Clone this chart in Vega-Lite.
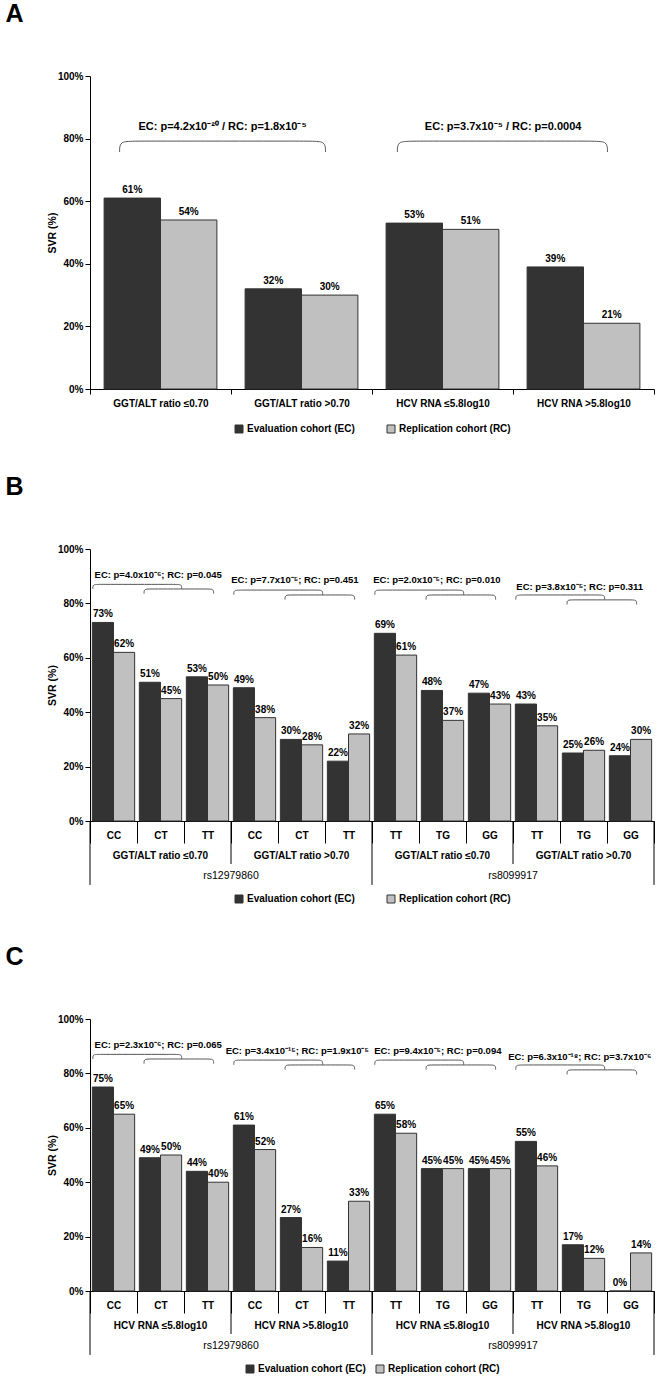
{
  "$schema": "https://vega.github.io/schema/vega-lite/v6.json",
  "background": "white",
  "padding": {"left": 5, "top": 2, "right": 5, "bottom": 2},
  "config": {
    "font": "Liberation Sans",
    "view": {"stroke": null},
    "axis": {"labelFont": "Liberation Sans", "labelFontWeight": "bold", "labelFontSize": 10, "labelColor": "#000", "titleFont": "Liberation Sans", "titleFontWeight": "bold", "titleFontSize": 10.5, "titleColor": "#000", "domainColor": "#000", "tickColor": "#000", "grid": false},
    "legend": {"labelFont": "Liberation Sans", "labelFontWeight": "bold", "labelFontSize": 10, "labelColor": "#000", "symbolType": "square", "symbolSize": 64, "symbolStrokeColor": "#333", "symbolStrokeWidth": 1, "labelOffset": 3, "layout": {"bottom": {"anchor": "middle"}}},
    "title": {"font": "Liberation Sans", "fontSize": 25, "fontWeight": "bold", "anchor": "start", "color": "#000", "dx": -42, "offset": 44},
    "concat": {"spacing": 40}
  },
  "resolve": {"scale": {"xOffset": "independent", "color": "independent"}, "legend": {"color": "independent"}},
  "datasets": {
    "a_bars": [
      {"cat": "GGT/ALT ratio ≤0.70", "cohort": "Evaluation cohort (EC)", "v": 0.61},
      {"cat": "GGT/ALT ratio ≤0.70", "cohort": "Replication cohort (RC)", "v": 0.54},
      {"cat": "GGT/ALT ratio >0.70", "cohort": "Evaluation cohort (EC)", "v": 0.32},
      {"cat": "GGT/ALT ratio >0.70", "cohort": "Replication cohort (RC)", "v": 0.30},
      {"cat": "HCV RNA ≤5.8log10", "cohort": "Evaluation cohort (EC)", "v": 0.53},
      {"cat": "HCV RNA ≤5.8log10", "cohort": "Replication cohort (RC)", "v": 0.51},
      {"cat": "HCV RNA >5.8log10", "cohort": "Evaluation cohort (EC)", "v": 0.39},
      {"cat": "HCV RNA >5.8log10", "cohort": "Replication cohort (RC)", "v": 0.21}
    ],
    "b_bars": [
      {"key": "1|CC", "cohort": "Evaluation cohort (EC)", "v": 0.73},
      {"key": "1|CC", "cohort": "Replication cohort (RC)", "v": 0.62},
      {"key": "2|CT", "cohort": "Evaluation cohort (EC)", "v": 0.51},
      {"key": "2|CT", "cohort": "Replication cohort (RC)", "v": 0.45},
      {"key": "3|TT", "cohort": "Evaluation cohort (EC)", "v": 0.53},
      {"key": "3|TT", "cohort": "Replication cohort (RC)", "v": 0.50},
      {"key": "4|CC", "cohort": "Evaluation cohort (EC)", "v": 0.49},
      {"key": "4|CC", "cohort": "Replication cohort (RC)", "v": 0.38},
      {"key": "5|CT", "cohort": "Evaluation cohort (EC)", "v": 0.30},
      {"key": "5|CT", "cohort": "Replication cohort (RC)", "v": 0.28},
      {"key": "6|TT", "cohort": "Evaluation cohort (EC)", "v": 0.22},
      {"key": "6|TT", "cohort": "Replication cohort (RC)", "v": 0.32},
      {"key": "7|TT", "cohort": "Evaluation cohort (EC)", "v": 0.69},
      {"key": "7|TT", "cohort": "Replication cohort (RC)", "v": 0.61},
      {"key": "8|TG", "cohort": "Evaluation cohort (EC)", "v": 0.48},
      {"key": "8|TG", "cohort": "Replication cohort (RC)", "v": 0.37},
      {"key": "9|GG", "cohort": "Evaluation cohort (EC)", "v": 0.47},
      {"key": "9|GG", "cohort": "Replication cohort (RC)", "v": 0.43},
      {"key": "10|TT", "cohort": "Evaluation cohort (EC)", "v": 0.43},
      {"key": "10|TT", "cohort": "Replication cohort (RC)", "v": 0.35},
      {"key": "11|TG", "cohort": "Evaluation cohort (EC)", "v": 0.25},
      {"key": "11|TG", "cohort": "Replication cohort (RC)", "v": 0.26},
      {"key": "12|GG", "cohort": "Evaluation cohort (EC)", "v": 0.24},
      {"key": "12|GG", "cohort": "Replication cohort (RC)", "v": 0.30}
    ],
    "c_bars": [
      {"key": "1|CC", "cohort": "Evaluation cohort (EC)", "v": 0.75},
      {"key": "1|CC", "cohort": "Replication cohort (RC)", "v": 0.65},
      {"key": "2|CT", "cohort": "Evaluation cohort (EC)", "v": 0.49},
      {"key": "2|CT", "cohort": "Replication cohort (RC)", "v": 0.50},
      {"key": "3|TT", "cohort": "Evaluation cohort (EC)", "v": 0.44},
      {"key": "3|TT", "cohort": "Replication cohort (RC)", "v": 0.40},
      {"key": "4|CC", "cohort": "Evaluation cohort (EC)", "v": 0.61},
      {"key": "4|CC", "cohort": "Replication cohort (RC)", "v": 0.52},
      {"key": "5|CT", "cohort": "Evaluation cohort (EC)", "v": 0.27},
      {"key": "5|CT", "cohort": "Replication cohort (RC)", "v": 0.16},
      {"key": "6|TT", "cohort": "Evaluation cohort (EC)", "v": 0.11},
      {"key": "6|TT", "cohort": "Replication cohort (RC)", "v": 0.33},
      {"key": "7|TT", "cohort": "Evaluation cohort (EC)", "v": 0.65},
      {"key": "7|TT", "cohort": "Replication cohort (RC)", "v": 0.58},
      {"key": "8|TG", "cohort": "Evaluation cohort (EC)", "v": 0.45},
      {"key": "8|TG", "cohort": "Replication cohort (RC)", "v": 0.45},
      {"key": "9|GG", "cohort": "Evaluation cohort (EC)", "v": 0.45},
      {"key": "9|GG", "cohort": "Replication cohort (RC)", "v": 0.45},
      {"key": "10|TT", "cohort": "Evaluation cohort (EC)", "v": 0.55},
      {"key": "10|TT", "cohort": "Replication cohort (RC)", "v": 0.46},
      {"key": "11|TG", "cohort": "Evaluation cohort (EC)", "v": 0.17},
      {"key": "11|TG", "cohort": "Replication cohort (RC)", "v": 0.12},
      {"key": "12|GG", "cohort": "Evaluation cohort (EC)", "v": 0.0},
      {"key": "12|GG", "cohort": "Replication cohort (RC)", "v": 0.14}
    ],
    "a_notes": [
      {"x": 0.94, "y": 0.837, "t": "EC: p=4.2x10⁻²⁰ / RC: p=1.8x10⁻⁵"},
      {"x": 2.93, "y": 0.837, "t": "EC: p=3.7x10⁻⁵ / RC: p=0.0004"}
    ],
    "b_notes": [
      {"x": 1.45, "y": 0.904, "t": "EC: p=4.0x10⁻⁶; RC: p=0.045"},
      {"x": 4.36, "y": 0.886, "t": "EC: p=7.7x10⁻⁵; RC: p=0.451"},
      {"x": 7.38, "y": 0.886, "t": "EC: p=2.0x10⁻⁵; RC: p=0.010"},
      {"x": 10.42, "y": 0.86, "t": "EC: p=3.8x10⁻⁵; RC: p=0.311"}
    ],
    "c_notes": [
      {"x": 1.45, "y": 0.904, "t": "EC: p=2.3x10⁻⁶; RC: p=0.065"},
      {"x": 4.41, "y": 0.882, "t": "EC: p=3.4x10⁻¹⁵; RC: p=1.9x10⁻⁵"},
      {"x": 7.4, "y": 0.882, "t": "EC: p=9.4x10⁻⁵; RC: p=0.094"},
      {"x": 10.42, "y": 0.86, "t": "EC: p=6.3x10⁻¹⁸; RC: p=3.7x10⁻⁶"}
    ],
    "a_braces": [
      {"id": "a1", "i": 0, "x": 0.21, "y": 0.757}, {"id": "a1", "i": 1, "x": 0.21, "y": 0.792}, {"id": "a1", "i": 2, "x": 0.31, "y": 0.792},
      {"id": "a1", "i": 3, "x": 1.57, "y": 0.792}, {"id": "a1", "i": 4, "x": 1.67, "y": 0.792}, {"id": "a1", "i": 5, "x": 1.67, "y": 0.757},
      {"id": "a2", "i": 0, "x": 2.18, "y": 0.757}, {"id": "a2", "i": 1, "x": 2.18, "y": 0.792}, {"id": "a2", "i": 2, "x": 2.28, "y": 0.792},
      {"id": "a2", "i": 3, "x": 3.57, "y": 0.792}, {"id": "a2", "i": 4, "x": 3.67, "y": 0.792}, {"id": "a2", "i": 5, "x": 3.67, "y": 0.757}
    ],
    "bc_braces": [
      {"id": "g1a", "i": 0, "x": 0.06, "y": 0.853}, {"id": "g1a", "i": 1, "x": 0.06, "y": 0.87}, {"id": "g1a", "i": 2, "x": 0.18, "y": 0.87},
      {"id": "g1a", "i": 3, "x": 1.83, "y": 0.87}, {"id": "g1a", "i": 4, "x": 1.95, "y": 0.87}, {"id": "g1a", "i": 5, "x": 1.95, "y": 0.853},
      {"id": "g1b", "i": 0, "x": 1.15, "y": 0.836}, {"id": "g1b", "i": 1, "x": 1.15, "y": 0.853}, {"id": "g1b", "i": 2, "x": 1.27, "y": 0.853},
      {"id": "g1b", "i": 3, "x": 2.51, "y": 0.853}, {"id": "g1b", "i": 4, "x": 2.63, "y": 0.853}, {"id": "g1b", "i": 5, "x": 2.63, "y": 0.836},
      {"id": "g2a", "i": 0, "x": 3.06, "y": 0.832}, {"id": "g2a", "i": 1, "x": 3.06, "y": 0.849}, {"id": "g2a", "i": 2, "x": 3.18, "y": 0.849},
      {"id": "g2a", "i": 3, "x": 4.83, "y": 0.849}, {"id": "g2a", "i": 4, "x": 4.95, "y": 0.849}, {"id": "g2a", "i": 5, "x": 4.95, "y": 0.832},
      {"id": "g2b", "i": 0, "x": 4.15, "y": 0.814}, {"id": "g2b", "i": 1, "x": 4.15, "y": 0.831}, {"id": "g2b", "i": 2, "x": 4.27, "y": 0.831},
      {"id": "g2b", "i": 3, "x": 5.51, "y": 0.831}, {"id": "g2b", "i": 4, "x": 5.63, "y": 0.831}, {"id": "g2b", "i": 5, "x": 5.63, "y": 0.814},
      {"id": "g3a", "i": 0, "x": 6.06, "y": 0.832}, {"id": "g3a", "i": 1, "x": 6.06, "y": 0.849}, {"id": "g3a", "i": 2, "x": 6.18, "y": 0.849},
      {"id": "g3a", "i": 3, "x": 7.83, "y": 0.849}, {"id": "g3a", "i": 4, "x": 7.95, "y": 0.849}, {"id": "g3a", "i": 5, "x": 7.95, "y": 0.832},
      {"id": "g3b", "i": 0, "x": 7.15, "y": 0.814}, {"id": "g3b", "i": 1, "x": 7.15, "y": 0.831}, {"id": "g3b", "i": 2, "x": 7.27, "y": 0.831},
      {"id": "g3b", "i": 3, "x": 8.51, "y": 0.831}, {"id": "g3b", "i": 4, "x": 8.63, "y": 0.831}, {"id": "g3b", "i": 5, "x": 8.63, "y": 0.814},
      {"id": "g4a", "i": 0, "x": 9.06, "y": 0.814}, {"id": "g4a", "i": 1, "x": 9.06, "y": 0.831}, {"id": "g4a", "i": 2, "x": 9.18, "y": 0.831},
      {"id": "g4a", "i": 3, "x": 10.83, "y": 0.831}, {"id": "g4a", "i": 4, "x": 10.95, "y": 0.831}, {"id": "g4a", "i": 5, "x": 10.95, "y": 0.814},
      {"id": "g4b", "i": 0, "x": 10.15, "y": 0.796}, {"id": "g4b", "i": 1, "x": 10.15, "y": 0.813}, {"id": "g4b", "i": 2, "x": 10.27, "y": 0.813},
      {"id": "g4b", "i": 3, "x": 11.51, "y": 0.813}, {"id": "g4b", "i": 4, "x": 11.63, "y": 0.813}, {"id": "g4b", "i": 5, "x": 11.63, "y": 0.796}
    ],
    "b_groups": [
      {"x": 1.5, "t": "GGT/ALT ratio ≤0.70"}, {"x": 4.5, "t": "GGT/ALT ratio >0.70"},
      {"x": 7.5, "t": "GGT/ALT ratio ≤0.70"}, {"x": 10.5, "t": "GGT/ALT ratio >0.70"}
    ],
    "c_groups": [
      {"x": 1.5, "t": "HCV RNA ≤5.8log10"}, {"x": 4.5, "t": "HCV RNA >5.8log10"},
      {"x": 7.5, "t": "HCV RNA ≤5.8log10"}, {"x": 10.5, "t": "HCV RNA >5.8log10"}
    ],
    "rs": [{"x": 3, "t": "rs12979860"}, {"x": 9, "t": "rs8099917"}],
    "gdiv": [{"x": 3}, {"x": 9}],
    "rdiv": [{"x": 0}, {"x": 6}, {"x": 12}]
  },
  "vconcat": [
    {
      "title": {"text": "A"},
      "width": 564,
      "height": 313,
      "resolve": {"scale": {"x": "independent"}},
      "layer": [
        {
          "data": {"name": "a_bars"},
          "layer": [
            {
              "mark": {"type": "bar", "stroke": "#333", "strokeWidth": 1},
              "encoding": {
                "x": {"field": "cat", "type": "nominal", "sort": null, "scale": {"paddingInner": 0, "paddingOuter": 0}, "axis": {"title": null, "labelAngle": 0, "tickBand": "extent", "tickSize": 5, "labelPadding": 4}},
                "xOffset": {"field": "cohort", "type": "nominal", "sort": null, "scale": {"paddingOuter": 0.25, "paddingInner": 0}},
                "y": {"field": "v", "type": "quantitative", "title": "SVR (%)", "scale": {"domain": [0, 1]}, "axis": {"format": ".0%", "values": [0, 0.2, 0.4, 0.6, 0.8, 1], "tickSize": 5, "titlePadding": 0}},
                "color": {"field": "cohort", "type": "nominal", "sort": null, "scale": {"range": ["#333333", "#c0c0c0"]}, "legend": {"title": null, "orient": "bottom", "direction": "horizontal", "columnPadding": 30, "offset": 16}}
              }
            },
            {
              "mark": {"type": "text", "fontWeight": "bold", "fontSize": 10, "baseline": "alphabetic", "dy": -5},
              "encoding": {
                "x": {"field": "cat", "type": "nominal", "sort": null},
                "xOffset": {"field": "cohort", "type": "nominal", "sort": null},
                "y": {"field": "v", "type": "quantitative", "title": "SVR (%)"},
                "text": {"field": "v", "type": "quantitative", "format": ".0%"}
              }
            }
          ]
        },
        {
          "data": {"name": "a_braces"},
          "mark": {"type": "line", "interpolate": "basis", "stroke": "#555", "strokeWidth": 1},
          "encoding": {
            "x": {"field": "x", "type": "quantitative", "scale": {"domain": [0, 4], "nice": false, "zero": false}, "axis": null},
            "y": {"field": "y", "type": "quantitative", "title": "SVR (%)"},
            "detail": {"field": "id"},
            "order": {"field": "i", "type": "quantitative"}
          }
        },
        {
          "data": {"name": "a_notes"},
          "mark": {"type": "text", "fontWeight": "bold", "fontSize": 11, "baseline": "middle"},
          "encoding": {
            "x": {"field": "x", "type": "quantitative", "scale": {"domain": [0, 4], "nice": false, "zero": false}, "axis": null},
            "y": {"field": "y", "type": "quantitative", "title": "SVR (%)"},
            "text": {"field": "t"}
          }
        }
      ]
    },
    {
      "title": {"text": "B"},
      "width": 564,
      "height": 272,
      "resolve": {"scale": {"x": "independent"}},
      "layer": [
        {
          "data": {"name": "b_bars"},
          "layer": [
            {
              "mark": {"type": "bar", "stroke": "#333", "strokeWidth": 1},
              "encoding": {
                "x": {"field": "key", "type": "nominal", "sort": null, "scale": {"paddingInner": 0, "paddingOuter": 0}, "axis": {"title": null, "labelAngle": 0, "tickBand": "extent", "tickSize": 22, "labelPadding": -13, "labelExpr": "split(datum.value, '|')[1]"}},
                "xOffset": {"field": "cohort", "type": "nominal", "sort": null, "scale": {"paddingOuter": 0.111, "paddingInner": 0}},
                "y": {"field": "v", "type": "quantitative", "title": "SVR (%)", "scale": {"domain": [0, 1]}, "axis": {"format": ".0%", "values": [0, 0.2, 0.4, 0.6, 0.8, 1], "tickSize": 5, "titlePadding": 0}},
                "color": {"field": "cohort", "type": "nominal", "sort": null, "scale": {"range": ["#333333", "#c0c0c0"]}, "legend": {"title": null, "orient": "bottom", "direction": "horizontal", "columnPadding": 30, "offset": 50}}
              }
            },
            {
              "mark": {"type": "text", "fontWeight": "bold", "fontSize": 10, "baseline": "alphabetic", "dy": -5},
              "encoding": {
                "x": {"field": "key", "type": "nominal", "sort": null},
                "xOffset": {"field": "cohort", "type": "nominal", "sort": null},
                "y": {"field": "v", "type": "quantitative", "title": "SVR (%)"},
                "text": {"field": "v", "type": "quantitative", "format": ".0%"}
              }
            }
          ]
        },
        {
          "data": {"name": "bc_braces"},
          "mark": {"type": "line", "interpolate": "basis", "stroke": "#555", "strokeWidth": 1},
          "encoding": {
            "x": {"field": "x", "type": "quantitative", "scale": {"domain": [0, 12], "nice": false, "zero": false}, "axis": null},
            "y": {"field": "y", "type": "quantitative", "title": "SVR (%)"},
            "detail": {"field": "id"},
            "order": {"field": "i", "type": "quantitative"}
          }
        },
        {
          "data": {"name": "b_notes"},
          "mark": {"type": "text", "fontWeight": "bold", "fontSize": 9.5, "baseline": "middle"},
          "encoding": {
            "x": {"field": "x", "type": "quantitative", "scale": {"domain": [0, 12], "nice": false, "zero": false}, "axis": null},
            "y": {"field": "y", "type": "quantitative", "title": "SVR (%)"},
            "text": {"field": "t"}
          }
        },
        {
          "data": {"name": "b_groups"},
          "mark": {"type": "text", "fontWeight": "bold", "fontSize": 10, "baseline": "middle"},
          "encoding": {
            "x": {"field": "x", "type": "quantitative", "scale": {"domain": [0, 12], "nice": false, "zero": false}, "axis": null},
            "y": {"datum": -0.13, "type": "quantitative"},
            "text": {"field": "t"}
          }
        },
        {
          "data": {"name": "rs"},
          "mark": {"type": "text", "fontWeight": "normal", "fontSize": 10.5, "baseline": "middle"},
          "encoding": {
            "x": {"field": "x", "type": "quantitative", "scale": {"domain": [0, 12], "nice": false, "zero": false}, "axis": null},
            "y": {"datum": -0.203, "type": "quantitative"},
            "text": {"field": "t"}
          }
        },
        {
          "data": {"name": "gdiv"},
          "mark": {"type": "rule", "stroke": "#000", "strokeWidth": 1},
          "encoding": {
            "x": {"field": "x", "type": "quantitative", "scale": {"domain": [0, 12], "nice": false, "zero": false}, "axis": null},
            "y": {"datum": 0, "type": "quantitative"},
            "y2": {"datum": -0.158}
          }
        },
        {
          "data": {"name": "rdiv"},
          "mark": {"type": "rule", "stroke": "#000", "strokeWidth": 1},
          "encoding": {
            "x": {"field": "x", "type": "quantitative", "scale": {"domain": [0, 12], "nice": false, "zero": false}, "axis": null},
            "y": {"datum": 0, "type": "quantitative"},
            "y2": {"datum": -0.235}
          }
        }
      ]
    },
    {
      "title": {"text": "C"},
      "width": 564,
      "height": 272,
      "resolve": {"scale": {"x": "independent"}},
      "layer": [
        {
          "data": {"name": "c_bars"},
          "layer": [
            {
              "mark": {"type": "bar", "stroke": "#333", "strokeWidth": 1},
              "encoding": {
                "x": {"field": "key", "type": "nominal", "sort": null, "scale": {"paddingInner": 0, "paddingOuter": 0}, "axis": {"title": null, "labelAngle": 0, "tickBand": "extent", "tickSize": 22, "labelPadding": -13, "labelExpr": "split(datum.value, '|')[1]"}},
                "xOffset": {"field": "cohort", "type": "nominal", "sort": null, "scale": {"paddingOuter": 0.111, "paddingInner": 0}},
                "y": {"field": "v", "type": "quantitative", "title": "SVR (%)", "scale": {"domain": [0, 1]}, "axis": {"format": ".0%", "values": [0, 0.2, 0.4, 0.6, 0.8, 1], "tickSize": 5, "titlePadding": 0}},
                "color": {"field": "cohort", "type": "nominal", "sort": null, "scale": {"range": ["#333333", "#c0c0c0"]}, "legend": {"title": null, "orient": "bottom", "direction": "horizontal", "columnPadding": 8, "offset": 50}}
              }
            },
            {
              "mark": {"type": "text", "fontWeight": "bold", "fontSize": 10, "baseline": "alphabetic", "dy": -5},
              "encoding": {
                "x": {"field": "key", "type": "nominal", "sort": null},
                "xOffset": {"field": "cohort", "type": "nominal", "sort": null},
                "y": {"field": "v", "type": "quantitative", "title": "SVR (%)"},
                "text": {"field": "v", "type": "quantitative", "format": ".0%"}
              }
            }
          ]
        },
        {
          "data": {"name": "bc_braces"},
          "mark": {"type": "line", "interpolate": "basis", "stroke": "#555", "strokeWidth": 1},
          "encoding": {
            "x": {"field": "x", "type": "quantitative", "scale": {"domain": [0, 12], "nice": false, "zero": false}, "axis": null},
            "y": {"field": "y", "type": "quantitative", "title": "SVR (%)"},
            "detail": {"field": "id"},
            "order": {"field": "i", "type": "quantitative"}
          }
        },
        {
          "data": {"name": "c_notes"},
          "mark": {"type": "text", "fontWeight": "bold", "fontSize": 9.5, "baseline": "middle"},
          "encoding": {
            "x": {"field": "x", "type": "quantitative", "scale": {"domain": [0, 12], "nice": false, "zero": false}, "axis": null},
            "y": {"field": "y", "type": "quantitative", "title": "SVR (%)"},
            "text": {"field": "t"}
          }
        },
        {
          "data": {"name": "c_groups"},
          "mark": {"type": "text", "fontWeight": "bold", "fontSize": 10, "baseline": "middle"},
          "encoding": {
            "x": {"field": "x", "type": "quantitative", "scale": {"domain": [0, 12], "nice": false, "zero": false}, "axis": null},
            "y": {"datum": -0.13, "type": "quantitative"},
            "text": {"field": "t"}
          }
        },
        {
          "data": {"name": "rs"},
          "mark": {"type": "text", "fontWeight": "normal", "fontSize": 10.5, "baseline": "middle"},
          "encoding": {
            "x": {"field": "x", "type": "quantitative", "scale": {"domain": [0, 12], "nice": false, "zero": false}, "axis": null},
            "y": {"datum": -0.203, "type": "quantitative"},
            "text": {"field": "t"}
          }
        },
        {
          "data": {"name": "gdiv"},
          "mark": {"type": "rule", "stroke": "#000", "strokeWidth": 1},
          "encoding": {
            "x": {"field": "x", "type": "quantitative", "scale": {"domain": [0, 12], "nice": false, "zero": false}, "axis": null},
            "y": {"datum": 0, "type": "quantitative"},
            "y2": {"datum": -0.158}
          }
        },
        {
          "data": {"name": "rdiv"},
          "mark": {"type": "rule", "stroke": "#000", "strokeWidth": 1},
          "encoding": {
            "x": {"field": "x", "type": "quantitative", "scale": {"domain": [0, 12], "nice": false, "zero": false}, "axis": null},
            "y": {"datum": 0, "type": "quantitative"},
            "y2": {"datum": -0.235}
          }
        }
      ]
    }
  ]
}
